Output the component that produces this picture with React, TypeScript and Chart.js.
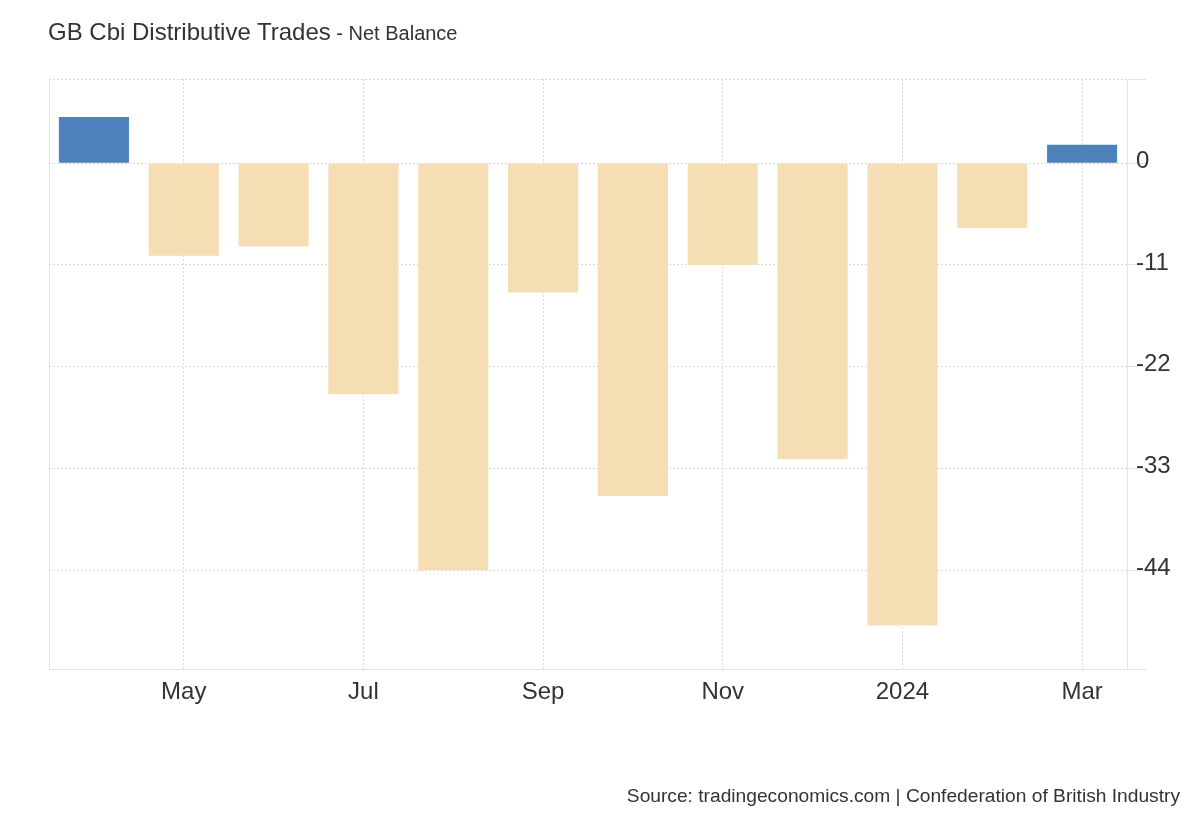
import React, { useEffect, useRef } from "react";
import { Chart, registerables } from "chart.js";

Chart.register(...registerables);

const categories = [
  "2023-04", "2023-05", "2023-06", "2023-07", "2023-08", "2023-09",
  "2023-10", "2023-11", "2023-12", "2024-01", "2024-02", "2024-03",
];
const tickLabels = ["", "May", "", "Jul", "", "Sep", "", "Nov", "", "2024", "", "Mar"];
const netBalance = [5, -10, -9, -25, -44, -14, -36, -11, -32, -50, -7, 2];
const yTickValues = [0, -11, -22, -33, -44];
const yMin = -54.7;
const yMax = 9.1;

const FONT = '"Liberation Sans", Arial, sans-serif';
const POS = "#4F81BD";
const NEG = "#F5DEB3";
const GRID = "#d9d9d9";
const AXIS = "#e3e3e3";

export default function App() {
  const ref = useRef<HTMLCanvasElement | null>(null);

  useEffect(() => {
    if (!ref.current) return;
    Chart.defaults.font.family = FONT;
    const chart = new Chart(ref.current, {
      type: "bar",
      data: {
        labels: categories,
        datasets: [
          {
            data: netBalance,
            backgroundColor: netBalance.map((v) => (v >= 0 ? POS : NEG)),
            borderWidth: 0,
            barPercentage: 0.78,
            categoryPercentage: 1,
          },
        ],
      },
      options: {
        animation: false,
        responsive: true,
        maintainAspectRatio: false,
        layout: { padding: { left: 49, top: 79, right: 0, bottom: 0 } },
        plugins: {
          legend: { display: false },
          tooltip: { enabled: false },
          title: { display: false },
        },
        scales: {
          x: {
            type: "category",
            offset: true,
            grid: {
              offset: false,
              drawTicks: false,
              color: (ctx: any) => (tickLabels[ctx.index] ? GRID : "rgba(0,0,0,0)"),
              lineWidth: 1,
            },
            border: { display: true, color: AXIS, width: 1, dash: [2, 2] },
            ticks: {
              autoSkip: false,
              maxRotation: 0,
              minRotation: 0,
              padding: 9,
              color: "#333333",
              font: { size: 24, family: FONT },
              callback: (_v: any, i: number) => tickLabels[i],
            },
            afterFit: (s: any) => {
              s.height = 151;
            },
          },
          y: {
            type: "linear",
            position: "right",
            min: yMin,
            max: yMax,
            afterBuildTicks: (s: any) => {
              s.ticks = [yMax, ...yTickValues, yMin].map((v) => ({ value: v }));
            },
            grid: {
              color: (ctx: any) =>
                ctx.tick && ctx.tick.value === yMin ? "rgba(0,0,0,0)" : GRID,
              tickBorderDash: [],
              tickColor: AXIS,
              tickLength: 19,
              lineWidth: 1,
            },
            border: { display: true, color: AXIS, width: 1, dash: [2, 2] },
            ticks: {
              padding: -10,
              labelOffset: -2,
              color: "#333333",
              font: { size: 24, family: FONT },
              callback: (v: any) => (yTickValues.includes(v) ? String(v) : ""),
            },
            afterFit: (s: any) => {
              s.width = 73;
            },
          },
          yLeft: {
            type: "linear",
            position: "left",
            min: yMin,
            max: yMax,
            grid: { display: false, drawTicks: false },
            border: { display: true, color: AXIS, width: 1 },
            ticks: { display: false },
            afterFit: (s: any) => {
              s.width = 0;
            },
          },
        },
      } as any,
    });
    return () => chart.destroy();
  }, []);

  return (
    <div
      style={{
        position: "absolute",
        left: 0,
        top: 0,
        width: 1200,
        height: 820,
        background: "#ffffff",
        fontFamily: FONT,
      }}
    >
      <canvas ref={ref} />
      <div
        style={{
          position: "absolute",
          left: 48,
          top: 20,
          fontSize: 24,
          lineHeight: "24px",
          color: "#333333",
          whiteSpace: "nowrap",
        }}
      >
        GB Cbi Distributive Trades<span style={{ fontSize: 20 }}> - Net Balance</span>
      </div>
      <div
        style={{
          position: "absolute",
          right: 20,
          top: 786,
          fontSize: 19.2,
          lineHeight: "19px",
          color: "#333333",
          whiteSpace: "nowrap",
        }}
      >
        Source: tradingeconomics.com | Confederation of British Industry
      </div>
    </div>
  );
}
